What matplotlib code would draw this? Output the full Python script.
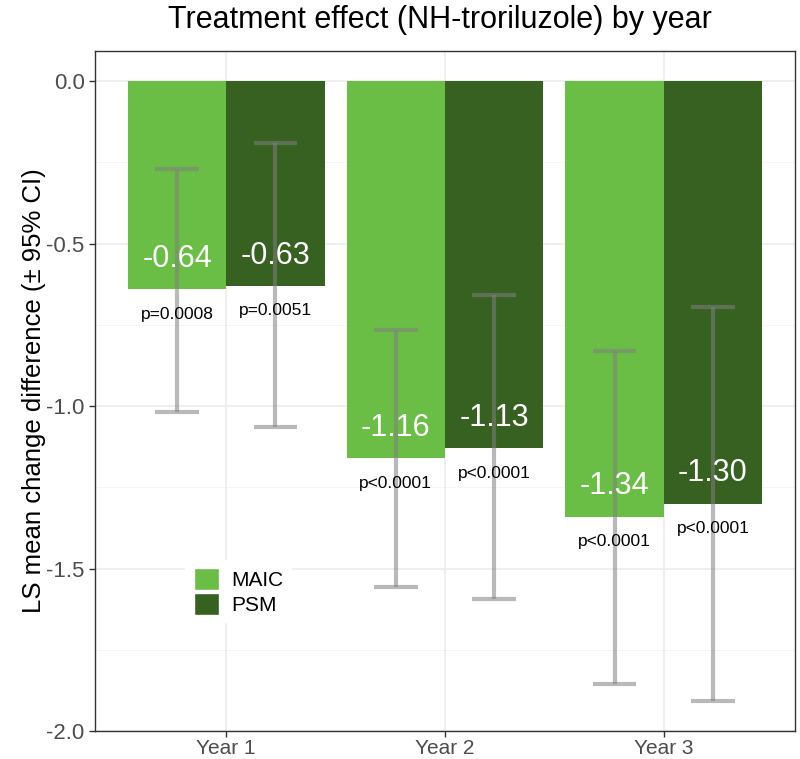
"""Treatment effect by year: grouped bars with CIs."""
import matplotlib
matplotlib.use("Agg")
import matplotlib.pyplot as plt
from matplotlib.patches import Patch
import numpy as np

plt.rcParams['font.family'] = ['Liberation Sans', 'DejaVu Sans']
plt.rcParams['axes.unicode_minus'] = False

# data
years = ["Year 1", "Year 2", "Year 3"]
methods = ["MAIC", "PSM"]
maic_est = [-0.64, -1.16, -1.34]
psm_est = [-0.63, -1.13, -1.30]
maic_lo = [-1.018, -1.557, -1.855]
maic_hi = [-0.271, -0.766, -0.831]
psm_lo = [-1.065, -1.594, -1.908]
psm_hi = [-0.190, -0.658, -0.695]
maic_p = ["p=0.0008", "p<0.0001", "p<0.0001"]
psm_p = ["p=0.0051", "p<0.0001", "p<0.0001"]

colors = {"MAIC": "#6abd45", "PSM": "#376121"}

fig = plt.figure(figsize=(8, 7.59), dpi=100)
ax = fig.add_axes([95 / 800, 28 / 759, 700 / 800, 680 / 759])

x = np.arange(1, len(years) + 1)
width = 0.45
series = [
    ("MAIC", maic_est, maic_lo, maic_hi, maic_p, -width / 2),
    ("PSM", psm_est, psm_lo, psm_hi, psm_p, width / 2),
]

# grid
for yv in np.arange(-2.0, 0.01, 0.5):
    ax.axhline(yv, color="#ebebeb", lw=1.1, zorder=0)
for yv in np.arange(-1.75, 0.0, 0.5):
    ax.axhline(yv, color="#f2f2f2", lw=0.6, zorder=0)
for xv in x:
    ax.axvline(xv, color="#ebebeb", lw=1.1, zorder=0)

for name, est, lo, hi, pv, off in series:
    xs = x + off
    ax.bar(xs, est, width=width, color=colors[name], zorder=2)
    for xi, e, l, h, p in zip(xs, est, lo, hi, pv):
        ax.vlines(xi, l, h, color="grey", alpha=0.55, lw=3, zorder=3)
        ax.hlines([l, h], xi - 0.1, xi + 0.1, color="grey", alpha=0.55, lw=3, zorder=3)
        ax.annotate(f"{e:.2f}", (xi, e), xytext=(0, 11), textcoords="offset points",
                    ha="center", va="bottom", color="white", fontsize=22, zorder=4)
        ax.annotate(p, (xi, e), xytext=(0, -18), textcoords="offset points",
                    ha="center", va="center", color="black", fontsize=12.5, zorder=4)

ax.set_xlim(0.4, 3.6)
ax.set_ylim(-2.0, 0.093)
ax.set_xticks(x)
ax.set_xticklabels(years)
ax.set_yticks(np.arange(-2.0, 0.01, 0.5))
ax.set_yticklabels([f"{v:.1f}" for v in np.arange(-2.0, 0.01, 0.5)])
ax.tick_params(labelsize=16, labelcolor="#4d4d4d", color="#333333", length=4, width=1)
ax.tick_params(axis="x", labelsize=15, pad=2)
for s in ax.spines.values():
    s.set_color("#333333")
    s.set_linewidth(1)
ax.set_ylabel("LS mean change difference (± 95% CI)", fontsize=18.5, labelpad=0)

handles = [Patch(facecolor=colors[m], edgecolor="white", label=m) for m in methods]
leg = ax.legend(handles=handles, loc="center", bbox_to_anchor=(0.205, 0.205),
                frameon=True, fontsize=15, handlelength=1.2, handleheight=1.2,
                handletextpad=0.6, labelspacing=0.15, borderpad=0.4)
leg.get_frame().set_edgecolor("none")
leg.get_frame().set_facecolor("white")
leg.get_frame().set_alpha(1)

fig.text(440 / 800, 1 - 20 / 759, "Treatment effect (NH-troriluzole) by year",
         ha="center", va="center", fontsize=22)

fig.savefig("out.png", dpi=100)
